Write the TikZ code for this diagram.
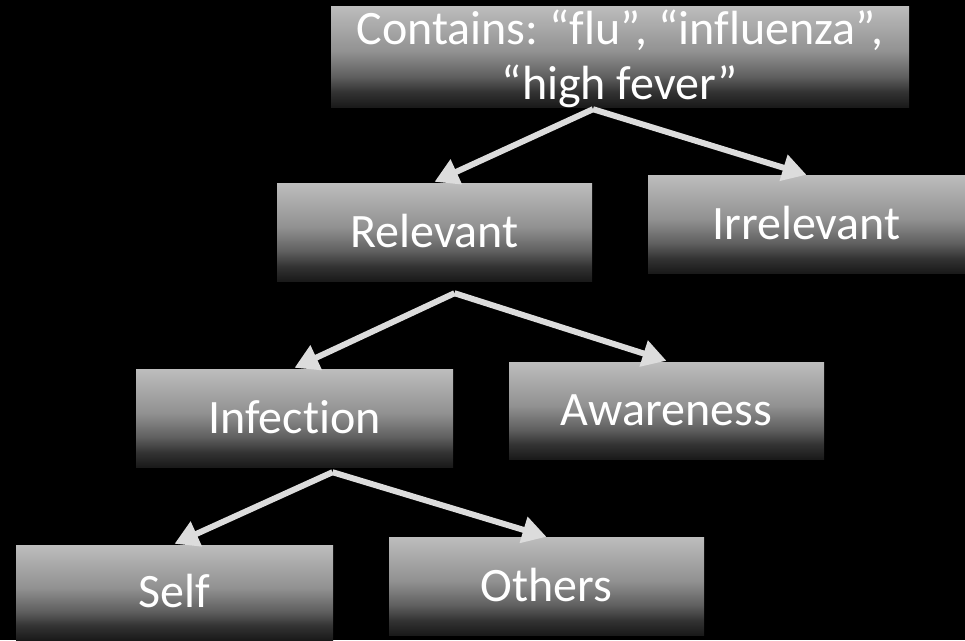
\documentclass[tikz,border=0pt]{standalone}
\usepackage{fontspec}
\setmainfont[Ligatures=NoCommon]{Carlito}
\frenchspacing
\usetikzlibrary{arrows.meta}
\definecolor{arrowgray}{RGB}{220,220,220}
\pgfdeclareverticalshading{boxshade}{100bp}{%
  rgb(0bp)=(0.10,0.10,0.10);
  rgb(25bp)=(0.10,0.10,0.10);
  rgb(32.5bp)=(0.20,0.20,0.20);
  rgb(40bp)=(0.37,0.37,0.37);
  rgb(52.5bp)=(0.57,0.57,0.57);
  rgb(75bp)=(0.74,0.74,0.74);
  rgb(100bp)=(0.74,0.74,0.74)}
\tikzset{
  box/.style={shading=boxshade, inner sep=0pt, text=white,
    font=\fontsize{48}{55}\selectfont, text height=30.5pt, text depth=0pt},
  conn/.style={draw=arrowgray, line width=6pt,
    -{Triangle[length=24pt,width=26pt]}},
}
\begin{document}
\begin{tikzpicture}[x=1pt,y=-1pt]
\fill[black] (0,0) rectangle (965,640);
\useasboundingbox (0,0) rectangle (965,640);
\node[box, minimum width=578pt, minimum height=101pt, align=center, text height=85.5pt] (top) at (620,56.5) {Contains: “flu”, “influenza”,\\“high fever”};
\node[box, minimum width=315pt, minimum height=98pt] (rel) at (434.5,232) {Relevant};
\node[box, minimum width=317pt, minimum height=98pt] (irr) at (806.5,224) {Irrelevant};
\node[box, minimum width=317pt, minimum height=98pt] (inf) at (294.5,418) {Infection};
\node[box, minimum width=315pt, minimum height=97pt] (awa) at (666.5,410.5) {Awareness};
\node[box, minimum width=317pt, minimum height=95pt] (self) at (174.5,592.5) {Self};
\node[box, minimum width=315pt, minimum height=98pt] (oth) at (546.5,586) {Others};
\coordinate (s1) at ([xshift=-27pt,yshift=-2pt]top.south);
\coordinate (s2) at ([xshift=20pt,yshift=-12pt]rel.south);
\coordinate (s3) at ([xshift=38pt,yshift=-5pt]inf.south);
\draw[conn] (s1) -- ([yshift=1pt]rel.north);
\draw[conn] (s1) -- (irr.north);
\draw[conn] (s2) -- ([yshift=1pt]inf.north);
\draw[conn] (s2) -- ([yshift=1pt]awa.north);
\draw[conn] (s3) -- ([yshift=1pt]self.north);
\draw[conn] (s3) -- (oth.north);
\end{tikzpicture}
\end{document}
